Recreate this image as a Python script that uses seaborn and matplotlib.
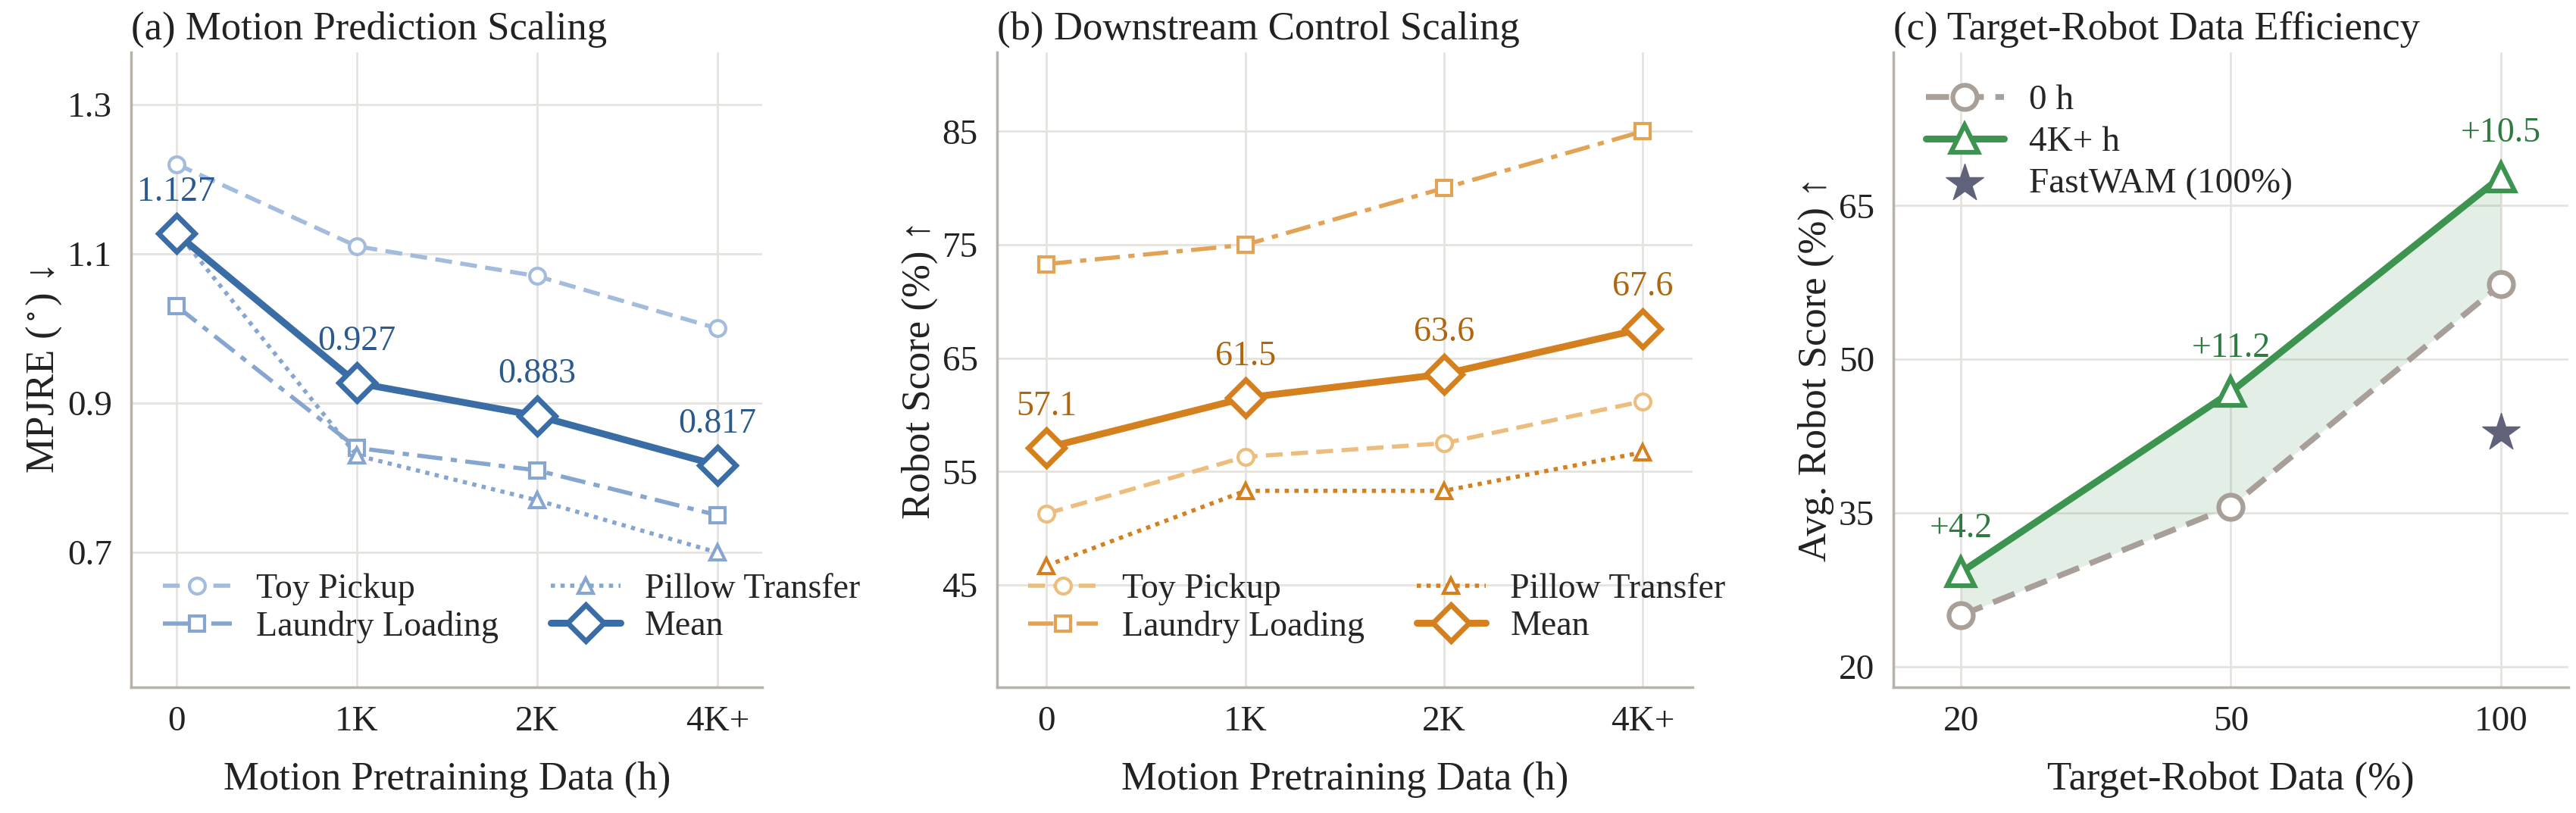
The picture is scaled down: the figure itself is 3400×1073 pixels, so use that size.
import matplotlib
matplotlib.use("Agg")
import matplotlib.pyplot as plt
import seaborn as sns
import pandas as pd
import numpy as np

x_labels = ["0", "1K", "2K", "4K+"]
a_toy = [1.22, 1.11, 1.07, 1.00]
a_laundry = [1.03, 0.84, 0.81, 0.75]
a_pillow = [1.13, 0.83, 0.77, 0.70]
a_mean = [1.127, 0.927, 0.883, 0.817]

b_toy = [51.3, 56.3, 57.5, 61.2]
b_laundry = [73.3, 75.0, 80.0, 85.0]
b_pillow = [46.7, 53.3, 53.3, 56.7]
b_mean = [57.1, 61.5, 63.6, 67.6]

c_x = ["20", "50", "100"]
c_0h = [25.0, 35.6, 57.3]
c_4k = [29.2, 46.8, 67.8]
c_gain = ["+4.2", "+11.2", "+10.5"]
c_fastwam = 42.8

sns.set_theme(style="whitegrid")
plt.rcParams['font.family'] = 'serif'
plt.rcParams['font.serif'] = ['Liberation Serif', 'DejaVu Serif']
plt.rcParams['mathtext.fontset'] = 'stix'
GRID = "#e6e3df"; SP = "#b8b2ac"; TXT = "#222222"

fig = plt.figure(figsize=(34, 10.73), dpi=100)
axa = fig.add_axes([0.051, 0.155, 0.245, 0.781])
axb = fig.add_axes([0.387, 0.155, 0.270, 0.781])
axc = fig.add_axes([0.735, 0.155, 0.262, 0.781])

def style(ax):
    for s in ["top", "right"]:
        ax.spines[s].set_visible(False)
    for s in ["left", "bottom"]:
        ax.spines[s].set_color(SP); ax.spines[s].set_linewidth(2.5)
    ax.grid(True, color=GRID, linewidth=2)
    ax.tick_params(axis="both", labelsize=34, colors=TXT, length=8, width=2, color=SP, pad=10)
    for t in ax.get_xticklabels() + ax.get_yticklabels():
        t.set_color(TXT)

xi = np.arange(4)
def line(ax, y, color, ls, marker, lw, ms, label, mew=3, z=3):
    df = pd.DataFrame({"x": xi, "y": y})
    sns.lineplot(data=df, x="x", y="y", ax=ax, color=color, linestyle=ls, linewidth=lw,
                 marker=marker, markersize=ms, markerfacecolor="white", markeredgecolor=color,
                 markeredgewidth=mew, label=label, zorder=z)

LEG = dict(ncol=2, fontsize=33, frameon=False, handlelength=2.0, columnspacing=1.5,
           handletextpad=0.7, labelspacing=0.15, loc="lower left", bbox_to_anchor=(0.0, 0.02))

# (a)
light_a = "#a3bcdd"; mid_a = "#86a6d0"; dark_a = "#3a6ca6"
line(axa, a_toy, light_a, (0, (4, 2)), "o", 4, 15, "Toy Pickup")
line(axa, a_laundry, mid_a, (0, (6, 2, 1.5, 2)), "s", 4, 14, "Laundry Loading")
line(axa, a_pillow, mid_a, (0, (1, 1.3)), "^", 4, 15, "Pillow Transfer")
line(axa, a_mean, dark_a, "-", "D", 6.5, 24, "Mean", mew=5, z=5)
for i, v in enumerate(a_mean):
    axa.annotate(f"{v:.3f}", (i, v), xytext=(0, 24), textcoords="offset points",
                 ha="center", va="bottom", fontsize=33, color="#2b5a8e")
axa.set_ylim(0.52, 1.37); axa.set_yticks([0.7, 0.9, 1.1, 1.3])
axa.set_xlim(-0.25, 3.25); axa.set_xticks(xi); axa.set_xticklabels(x_labels)
axa.set_ylabel("MPJRE ($^\\circ$) ↓", fontsize=38, color=TXT)
axa.set_xlabel("Motion Pretraining Data (h)", fontsize=38, color=TXT, labelpad=22)
axa.set_title("(a) Motion Prediction Scaling", fontsize=38, color=TXT, loc="left", pad=12)
axa.legend(**LEG)
style(axa)

# (b)
light_b = "#ecbd7c"; mid_b = "#e3a355"; dark_b = "#d4801f"
line(axb, b_toy, light_b, (0, (4, 2)), "o", 4, 15, "Toy Pickup")
line(axb, b_laundry, mid_b, (0, (6, 2, 1.5, 2)), "s", 4, 14, "Laundry Loading")
line(axb, b_pillow, dark_b, (0, (1, 1.3)), "^", 4, 15, "Pillow Transfer")
line(axb, b_mean, dark_b, "-", "D", 6.5, 24, "Mean", mew=5, z=5)
for i, v in enumerate(b_mean):
    axb.annotate(f"{v:.1f}", (i, v), xytext=(0, 24), textcoords="offset points",
                 ha="center", va="bottom", fontsize=33, color="#b0650f")
axb.set_ylim(36, 92); axb.set_yticks([45, 55, 65, 75, 85])
axb.set_xlim(-0.25, 3.25); axb.set_xticks(xi); axb.set_xticklabels(x_labels)
axb.set_ylabel("Robot Score (%) ↑", fontsize=38, color=TXT)
axb.set_xlabel("Motion Pretraining Data (h)", fontsize=38, color=TXT, labelpad=22)
axb.set_title("(b) Downstream Control Scaling", fontsize=38, color=TXT, loc="left", pad=12)
axb.legend(**LEG)
style(axb)

# (c)
grey = "#a8a098"; green = "#3d9450"; star = "#5f6278"
cx = np.arange(3)
axc.fill_between(cx, c_0h, c_4k, color=green, alpha=0.14, linewidth=0, zorder=1)
dfc0 = pd.DataFrame({"x": cx, "y": c_0h}); dfc4 = pd.DataFrame({"x": cx, "y": c_4k})
sns.lineplot(data=dfc0, x="x", y="y", ax=axc, color=grey, linestyle=(0, (4, 2)), linewidth=5.5,
             marker="o", markersize=23, markerfacecolor="white", markeredgecolor=grey,
             markeredgewidth=4.5, label="0 h", zorder=3)
sns.lineplot(data=dfc4, x="x", y="y", ax=axc, color=green, linestyle="-", linewidth=6.5,
             marker="^", markersize=26, markerfacecolor="white", markeredgecolor=green,
             markeredgewidth=4.5, label="4K+ h", zorder=4)
axc.scatter([2], [c_fastwam], marker="*", s=1400, color=star, zorder=5, label="FastWAM (100%)")
for i, (v, g) in enumerate(zip(c_4k, c_gain)):
    axc.annotate(g, (i, v), xytext=(0, 26), textcoords="offset points",
                 ha="center", va="bottom", fontsize=33, color="#2e7a40")
axc.set_ylim(18, 80); axc.set_yticks([20, 35, 50, 65])
axc.set_xlim(-0.25, 2.25); axc.set_xticks(cx); axc.set_xticklabels(c_x)
axc.set_ylabel("Avg. Robot Score (%) ↑", fontsize=38, color=TXT)
axc.set_xlabel("Target-Robot Data (%)", fontsize=38, color=TXT, labelpad=22)
axc.set_title("(c) Target-Robot Data Efficiency", fontsize=38, color=TXT, loc="left", pad=12)
axc.legend(loc="upper left", fontsize=34, frameon=False, handlelength=2.2, scatterpoints=1,
           handletextpad=0.7, labelspacing=0.25)
style(axc)

fig.savefig("out.png", dpi=100)
